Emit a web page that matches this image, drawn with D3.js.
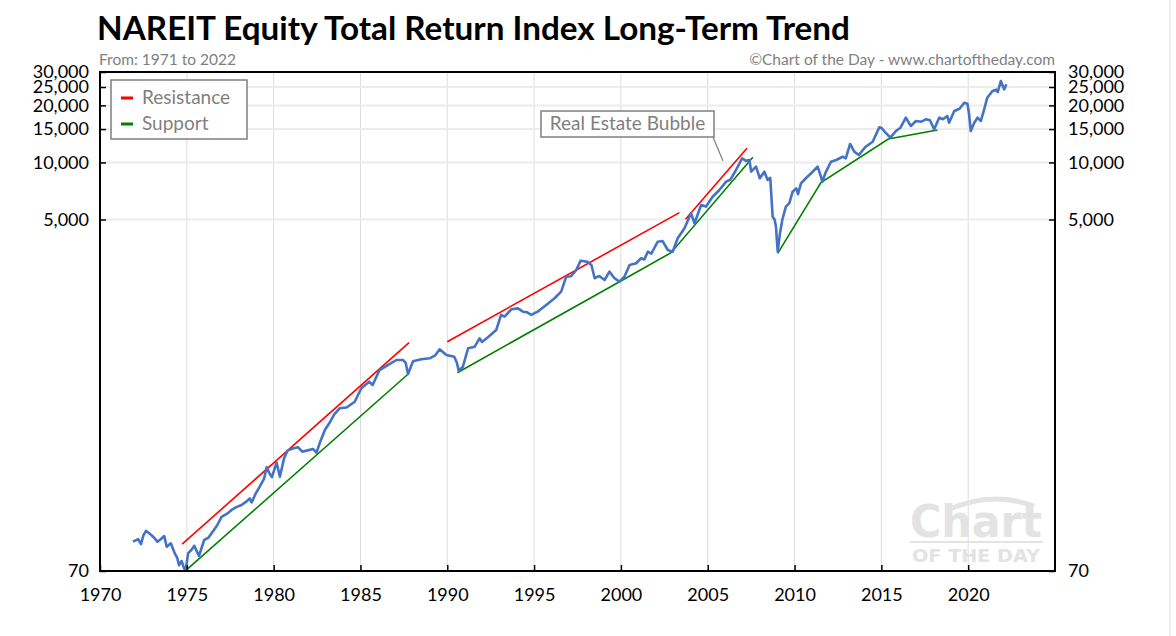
<!DOCTYPE html>
<html lang="en">
<head>
<meta charset="UTF-8">
<title>NAREIT Equity Total Return Index Long-Term Trend</title>
<script src="https://d3js.org/d3.v7.min.js"></script>
<style>
  body { margin: 0; background: #fff; font-family: Lato, "Open Sans", sans-serif; }
  svg { display: block; }
  .tick text { font-family: Lato, sans-serif; font-size: 18px; fill: #000; }
  .grey { fill: #7f7f7f; }
</style>
</head>
<body>
<svg width="1176" height="636"></svg>
<script>
// NAREIT equity total return index
const years = [1971.9, 1972.2, 1972.36, 1972.5, 1972.65, 1972.97, 1973.15, 1973.3, 1973.5, 1973.7, 1973.84,
  1974.08, 1974.3, 1974.45, 1974.55, 1974.7, 1974.85, 1974.93, 1975.08, 1975.25, 1975.43, 1975.6, 1975.7,
  1976.0, 1976.25, 1976.5, 1976.75, 1977.0, 1977.3, 1977.58, 1977.85, 1978.15, 1978.4, 1978.63, 1978.73,
  1978.95, 1979.2, 1979.45, 1979.6, 1979.75, 1979.9, 1980.17, 1980.36, 1980.6, 1980.8, 1981.1, 1981.4,
  1981.65, 1981.9, 1982.27, 1982.47, 1982.65, 1982.95, 1983.2, 1983.5, 1983.8, 1984.2, 1984.67, 1985.05,
  1985.5, 1985.7, 1986.1, 1986.6, 1987.07, 1987.45, 1987.6, 1987.74, 1988.03, 1988.5, 1988.99, 1989.3,
  1989.56, 1989.95, 1990.4, 1990.55, 1990.66, 1990.9, 1991.2, 1991.58, 1991.86, 1992.0, 1992.34, 1992.82,
  1993.1, 1993.3, 1993.69, 1994.07, 1994.36, 1994.6, 1994.84, 1995.2, 1995.7, 1996.18, 1996.56, 1996.85,
  1997.13, 1997.43, 1997.68, 1997.9, 1998.1, 1998.3, 1998.49, 1998.75, 1999.06, 1999.34, 1999.63, 1999.92,
  2000.2, 2000.5, 2000.88, 2001.16, 2001.35, 2001.55, 2001.75, 2002.12, 2002.4, 2002.7, 2002.98, 2003.27,
  2003.66, 2004.04, 2004.24, 2004.62, 2004.9, 2005.28, 2005.67, 2006.06, 2006.3, 2006.63, 2006.98, 2007.2,
  2007.4, 2007.5, 2007.78, 2008.0, 2008.26, 2008.45, 2008.6, 2008.74, 2008.85, 2008.93, 2009.03, 2009.16,
  2009.3, 2009.5, 2009.7, 2009.89, 2010.1, 2010.2, 2010.37, 2010.65, 2010.85, 2011.14, 2011.33, 2011.52,
  2011.6, 2011.8, 2012.1, 2012.4, 2012.77, 2012.95, 2013.2, 2013.44, 2013.7, 2014.1, 2014.5, 2014.88,
  2015.0, 2015.2, 2015.52, 2015.84, 2016.1, 2016.41, 2016.7, 2016.99, 2017.3, 2017.56, 2017.8, 2018.04,
  2018.33, 2018.55, 2018.8, 2018.9, 2019.2, 2019.5, 2019.77, 2019.96, 2020.05, 2020.15, 2020.35, 2020.54,
  2020.73, 2020.92, 2021.1, 2021.4, 2021.6, 2021.7, 2021.88, 2022.07, 2022.2];
const index = [100, 103, 97, 108, 114, 108, 104, 100, 103, 107, 94,
  98, 87, 82, 75, 79, 72, 70.5, 87, 90, 95, 88, 84,
  102, 105, 113, 122, 135, 140, 147, 152, 156, 162, 169, 161,
  178, 195, 215, 247, 230, 219, 261, 220, 275, 302, 310, 315,
  298, 302, 308, 295, 330, 388, 421, 470, 505, 510, 547, 644,
  698, 670, 804, 855, 908, 908, 880, 766, 895, 916, 927, 960,
  1034, 965, 945, 880, 798, 837, 1047, 1067, 1182, 1130, 1196, 1307,
  1569, 1537, 1681, 1700, 1633, 1620, 1569, 1633, 1771, 1921, 2082, 2497,
  2510, 2709, 3034, 3010, 2980, 2879, 2450, 2520, 2399, 2654, 2450, 2350,
  2497, 2879, 2939, 3123, 3080, 3383, 3300, 3820, 3850, 3453, 3383, 3981,
  4496, 5395, 4776, 5967, 5850, 6597, 7158, 7917, 8100, 9126, 10520, 10200,
  10300, 8940, 9500, 8252, 8940, 8083, 8300, 5176, 5000, 4584, 3383, 4230,
  5000, 5844, 6100, 7011, 7300, 6800, 7764, 8252, 8589, 9126, 9500, 8413,
  7917, 8900, 10090, 10300, 10720, 10500, 12515, 11400, 10950, 12110, 12870, 15320,
  15250, 14500, 13510, 14650, 15250, 17220, 15570, 16550, 16400, 16890, 16700, 14960,
  17220, 16900, 17580, 16200, 18680, 19200, 20660, 20400, 18000, 14650, 16200, 17220,
  16550, 19070, 21960, 23820, 24200, 23500, 26900, 24300, 25830];

// trend lines: [year, value] vertices
const resistance = [
  [[1974.73, 97], [1987.8, 1120]],
  [[1990.0, 1134], [2003.37, 5435]],
  [[2003.72, 5015], [2007.26, 11875]]
];
const support = [
  [[1974.98, 70.9], [1987.8, 773]],
  [[1990.58, 778], [1999.92, 2350], [2002.89, 3342], [2007.6, 10650]],
  [[2009.03, 3318], [2011.52, 7822], [2015.4, 13300], [2018.23, 14830]]
];

const yTicks = [70, 5000, 10000, 15000, 20000, 25000, 30000];
const xTicks = [1970, 1975, 1980, 1985, 1990, 1995, 2000, 2005, 2010, 2015, 2020];

const svg = d3.select("svg");
const L = 100, R = 1055, T = 72, B = 571;

const x = d3.scaleLinear().domain([1970, 2025]).range([L, R]);
const y = d3.scaleLog().domain([70, 30000]).range([B, T]);

// outer frame edge on the right
svg.append("line").attr("x1", 1170).attr("x2", 1170).attr("y1", 0).attr("y2", 636)
  .attr("stroke", "#d9d9d9");

// gridlines
const grid = svg.append("g");
grid.selectAll("line.v").data(xTicks.slice(1)).join("line").attr("class", "v")
  .attr("x1", d => x(d)).attr("x2", d => x(d)).attr("y1", T).attr("y2", B)
  .attr("stroke", "#dcdcdc").attr("stroke-width", 1);
grid.selectAll("line.h").data(yTicks.slice(1, -1)).join("line").attr("class", "h")
  .attr("x1", L).attr("x2", R).attr("y1", d => y(d)).attr("y2", d => y(d))
  .attr("stroke", "#ececec").attr("stroke-width", 2);

// watermark
const wm = svg.append("g").attr("fill", "#e3e3e3").attr("font-family", "'DejaVu Sans', sans-serif")
  .attr("font-weight", "bold");
wm.append("text").attr("x", 976).attr("y", 537).attr("text-anchor", "middle")
  .attr("font-size", 44).attr("textLength", 132).attr("lengthAdjust", "spacingAndGlyphs").text("Chart");
wm.append("path").attr("d", "M948,510 Q990,490 1034,506").attr("fill", "none")
  .attr("stroke", "#e3e3e3").attr("stroke-width", 5);
wm.append("rect").attr("x", 910).attr("y", 541).attr("width", 133).attr("height", 2);
wm.append("text").attr("x", 976).attr("y", 562).attr("text-anchor", "middle")
  .attr("font-size", 17).attr("textLength", 128).attr("lengthAdjust", "spacingAndGlyphs").text("OF THE DAY");

// trend lines
const tline = d3.line().x(d => x(d[0])).y(d => y(d[1]));
svg.append("g").selectAll("path").data(resistance).join("path")
  .attr("d", tline).attr("fill", "none").attr("stroke", "#ff0000").attr("stroke-width", 1.6);
svg.append("g").selectAll("path").data(support).join("path")
  .attr("d", tline).attr("fill", "none").attr("stroke", "#008000").attr("stroke-width", 1.6);

// index line
const series = years.map((yr, i) => [yr, index[i]]);
svg.append("path").datum(series).attr("d", tline).attr("fill", "none")
  .attr("stroke", "#4472c4").attr("stroke-width", 2.6).attr("stroke-linejoin", "round");

// axes
const fmt = d3.format(",");
svg.append("g").attr("transform", `translate(${L},0)`)
  .call(d3.axisLeft(y).tickValues(yTicks).tickFormat(fmt).tickSize(-6).tickPadding(11))
  .call(g => g.select(".domain").remove());
svg.append("g").attr("transform", `translate(${R},0)`)
  .call(d3.axisRight(y).tickValues(yTicks).tickFormat(fmt).tickSize(-6).tickPadding(13))
  .call(g => g.select(".domain").remove());
svg.append("g").attr("transform", `translate(0,${B})`)
  .call(d3.axisBottom(x).tickValues(xTicks).tickFormat(d3.format("d")).tickSize(-6).tickPadding(17))
  .call(g => g.select(".domain").remove());
svg.selectAll(".tick line").attr("stroke", "#000").attr("stroke-width", 1.5);

// plot frame
svg.append("rect").attr("x", L).attr("y", T).attr("width", R - L).attr("height", B - T)
  .attr("fill", "none").attr("stroke", "#000").attr("stroke-width", 2);

// legend
const lg = svg.append("g");
lg.append("rect").attr("x", 111).attr("y", 80).attr("width", 136).attr("height", 59)
  .attr("fill", "#fff").attr("stroke", "#7f7f7f").attr("stroke-width", 1.5);
[["Resistance", "#ff0000", 98], ["Support", "#008000", 124]].forEach(([t, c, cy]) => {
  lg.append("line").attr("x1", 121).attr("x2", 133).attr("y1", cy).attr("y2", cy)
    .attr("stroke", c).attr("stroke-width", 3);
  lg.append("text").attr("class", "grey").attr("x", 142).attr("y", cy + 6)
    .attr("font-size", 19).text(t);
});

// annotation
const an = svg.append("g");
an.append("line").attr("x1", 713).attr("y1", 137).attr("x2", 723).attr("y2", 161)
  .attr("stroke", "#7f7f7f").attr("stroke-width", 1.2);
an.append("rect").attr("x", 541).attr("y", 111).attr("width", 173).attr("height", 26)
  .attr("fill", "#fff").attr("stroke", "#7f7f7f").attr("stroke-width", 1.5);
an.append("text").attr("class", "grey").attr("x", 627.5).attr("y", 130).attr("text-anchor", "middle")
  .attr("font-size", 19).text("Real Estate Bubble");

// titles
svg.append("text").attr("x", 97).attr("y", 40).attr("font-size", 33).attr("font-weight", "bold")
  .attr("textLength", 753).attr("lengthAdjust", "spacingAndGlyphs")
  .text("NAREIT Equity Total Return Index Long-Term Trend");
svg.append("text").attr("class", "grey").attr("x", 99).attr("y", 65).attr("font-size", 15.5)
  .text("From: 1971 to 2022");
svg.append("text").attr("class", "grey").attr("x", 1055).attr("y", 65).attr("font-size", 15.5)
  .attr("text-anchor", "end").text("©Chart of the Day - www.chartoftheday.com");
</script>
</body>
</html>
